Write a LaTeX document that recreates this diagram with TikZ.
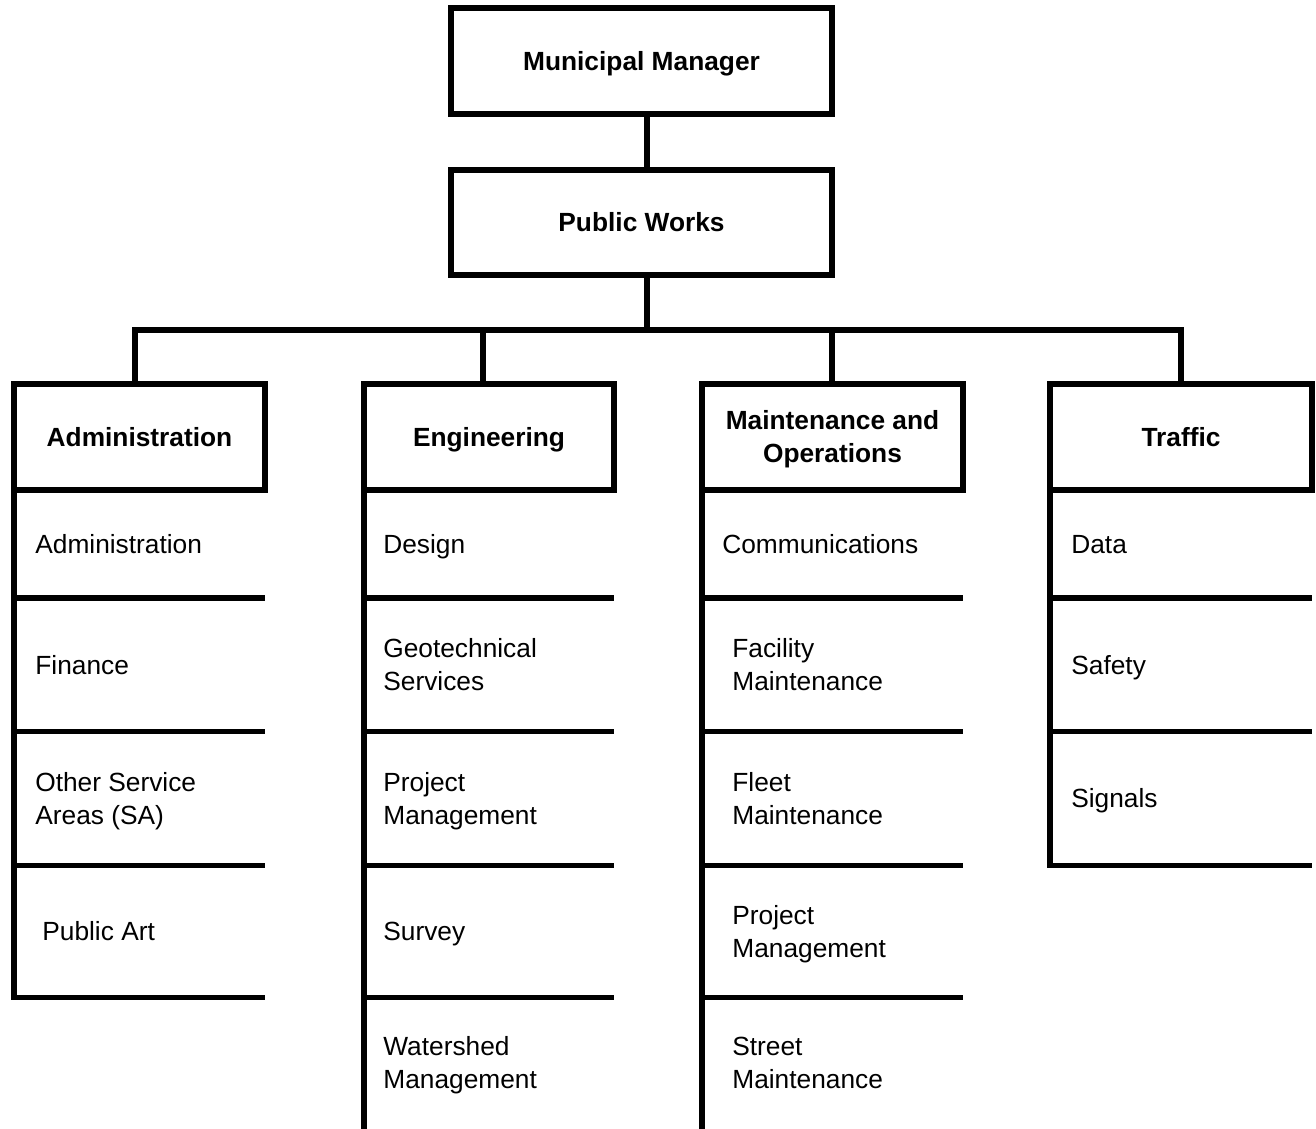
\documentclass[tikz,border=0pt]{standalone}
\usepackage{fontspec}
\setmainfont{Liberation Sans}
\newcommand{\twoL}[2]{\begin{tabular}[t]{@{}l@{}}#1\\#2\end{tabular}}
\newcommand{\twoC}[2]{\begin{tabular}[t]{@{}c@{}}#1\\#2\end{tabular}}
\tikzset{
  every path/.style={line width=5.7pt},
  txt/.style={font=\fontsize{26.3}{33}\selectfont},
  topbox/.style={draw, line width=5.7pt, font=\fontsize{26.3}{33}\selectfont\bfseries,
    inner sep=0pt, outer sep=0pt, minimum width=381pt, text height=18.8pt, text depth=0pt},
  headbox/.style={draw, line width=5.7pt, font=\fontsize{26.3}{33}\selectfont\bfseries,
    inner sep=0pt, outer sep=0pt, minimum height=106pt, text height=18.8pt, text depth=0pt},
  cell/.style={txt, anchor=base west, inner sep=0pt},
  conn/.style={line width=5.7pt, line join=miter}
}
\begin{document}
\begin{tikzpicture}[x=1pt,y=-1pt]
\useasboundingbox (0,0) rectangle (1316,1128);

% top boxes
\node[topbox, minimum height=106pt] (mm) at (641.5,61) {Municipal Manager};
\node[topbox, minimum height=105pt] (pw) at (641.5,222.5) {Public Works};

% headers
\node[headbox, minimum width=251pt] (adm) at (139.5,437) {Administration};
\node[headbox, minimum width=250pt] (eng) at (489,437) {Engineering};
\node[headbox, minimum width=261pt, text depth=33pt] (mnt) at (832.5,437) {\twoC{Maintenance and}{Operations}};
\node[headbox, minimum width=262pt] (trf) at (1181,437) {Traffic};

% connectors
\coordinate (pwc) at (647,330);
\coordinate (bA) at (135,330);
\coordinate (bB) at (483,330);
\coordinate (bC) at (832,330);
\coordinate (bD) at (1181,330);
\draw[conn] (mm.south -| pwc) -- (pw.north -| pwc);
\draw[conn] (pw.south -| pwc) -- (pwc);
\draw[conn] (adm.north -| bA) -- (bA) -- (bD) -- (trf.north -| bD);
\draw[conn] (bB) -- (eng.north -| bB);
\draw[conn] (bC) -- (mnt.north -| bC);

% column lines
\draw[conn] (adm.south west) -- (adm.south west |- 0,997.5) -- (adm.south east |- 0,997.5);
\foreach \y in {598,731.5,865.5}
  \draw[conn] (adm.south west |- 0,\y) -- (adm.south east |- 0,\y);

\draw[conn] (eng.south west) -- (eng.south west |- 0,1130);
\foreach \y in {598,731.5,865.5,997.5}
  \draw[conn] (eng.south west |- 0,\y) -- (eng.south east |- 0,\y);

\draw[conn] (mnt.south west) -- (mnt.south west |- 0,1130);
\foreach \y in {598,731.5,865.5,997.5}
  \draw[conn] (mnt.south west |- 0,\y) -- (mnt.south east |- 0,\y);

\draw[conn] (trf.south west) -- (trf.south west |- 0,865.5) -- (trf.south east |- 0,865.5);
\foreach \y in {598,731.5}
  \draw[conn] (trf.south west |- 0,\y) -- (trf.south east |- 0,\y);

% Administration cells
\node[cell] (a1) at (32.5,553.4) {Administration};
\node[cell] (a2) at (32.5,674.2) {Finance};
\node[cell] (a3) at (32.5,791.4) {\twoL{Other Service}{Areas (SA)}};
\node[cell] (a4) at (39.5,940.9) {Public Art};

% Engineering cells
\node[cell] (e1) at (380.5,553.4) {Design};
\node[cell] (e2) at (380.5,657.7) {\twoL{Geotechnical}{Services}};
\node[cell] (e3) at (380.5,791.4) {\twoL{Project}{Management}};
\node[cell] (e4) at (380.5,940.9) {Survey};
\node[cell] (e5) at (380.5,1055.9) {\twoL{Watershed}{Management}};

% Maintenance cells
\node[cell] (m1) at (719.5,553.4) {Communications};
\node[cell] (m2) at (729.5,657.7) {\twoL{Facility}{Maintenance}};
\node[cell] (m3) at (729.5,791.4) {\twoL{Fleet}{Maintenance}};
\node[cell] (m4) at (729.5,924.4) {\twoL{Project}{Management}};
\node[cell] (m5) at (729.5,1055.9) {\twoL{Street}{Maintenance}};

% Traffic cells
\node[cell] (t1) at (1068.5,553.4) {Data};
\node[cell] (t2) at (1068.5,674.2) {Safety};
\node[cell] (t3) at (1068.5,807.9) {Signals};
\end{tikzpicture}
\end{document}
